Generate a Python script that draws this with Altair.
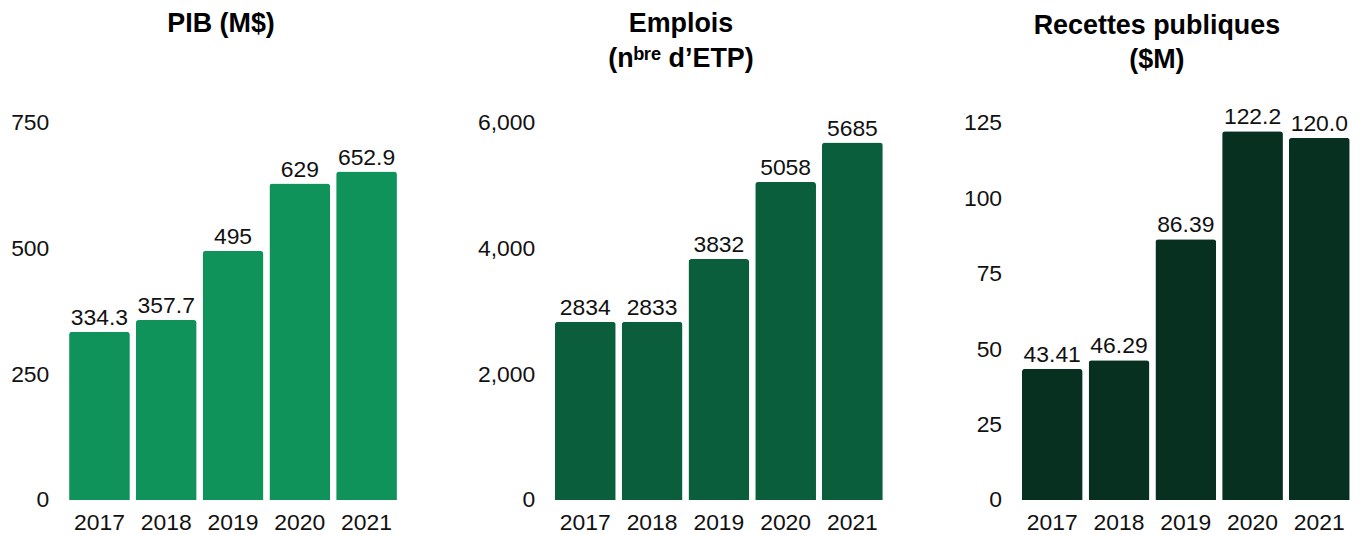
import altair as alt
import pandas as pd

years = ["2017", "2018", "2019", "2020", "2021"]
pib_values = [334.3, 357.7, 495, 629, 652.9]
pib_labels = ["334.3", "357.7", "495", "629", "652.9"]
emplois_values = [2834, 2833, 3832, 5058, 5685]
emplois_labels = ["2834", "2833", "3832", "5058", "5685"]
recettes_values = [43.41, 46.29, 86.39, 122.2, 120.0]
recettes_labels = ["43.41", "46.29", "86.39", "122.2", "120.0"]

FONT = "Liberation Sans"


def panel(values, labels, color, title, ticks, fmt, dx, dy):
    df = pd.DataFrame({"year": years, "value": values, "label": labels})
    base = alt.Chart(df)
    x = alt.X("year:N", title=None, sort=years,
              scale=alt.Scale(paddingInner=0.09, paddingOuter=0.05),
              axis=alt.Axis(labelAngle=0, labelPadding=12))
    y = alt.Y("value:Q", title=None,
              scale=alt.Scale(domain=[ticks[0], ticks[-1]], nice=False),
              axis=alt.Axis(values=ticks, format=fmt, labelPadding=17))
    bars = base.mark_bar(color=color, cornerRadiusTopLeft=3,
                         cornerRadiusTopRight=3).encode(x=x, y=y)
    text = base.mark_text(baseline="alphabetic", dy=-7, font=FONT, fontSize=23,
                          color="#111111").encode(x=x, y=y, text="label:N")
    return alt.layer(bars, text).properties(
        width=336, height=379,
        title=alt.TitleParams(text=title, anchor="middle", dx=dx, dy=dy,
                              fontSize=27, font=FONT, fontWeight="bold",
                              lineHeight=35, offset=34, color="#000000"),
    )


p1 = panel(pib_values, pib_labels, "#10935B", ["PIB (M$)", ""],
           [0, 250, 500, 750], "d", -12, -5)
p2 = panel(emplois_values, emplois_labels, "#0B5E3C",
           ["Emplois", "(nᵇʳᵉ d’ETP)"], [0, 2000, 4000, 6000], ",.0f", -38, -5)
p3 = panel(recettes_values, recettes_labels, "#073020",
           ["Recettes publiques", "($M)"], [0, 25, 50, 75, 100, 125], "d", -29, 2)

chart = alt.hconcat(p1, p2, p3, spacing=77).properties(
    padding={"left": 2, "top": 1, "right": 5, "bottom": 5}
).configure_view(stroke=None).configure_axis(
    domain=False, ticks=False, grid=False, labelFont=FONT, labelFontSize=23,
    labelColor="#111111"
)

chart.save("out.html", embed_options={"renderer": "svg", "actions": False})
